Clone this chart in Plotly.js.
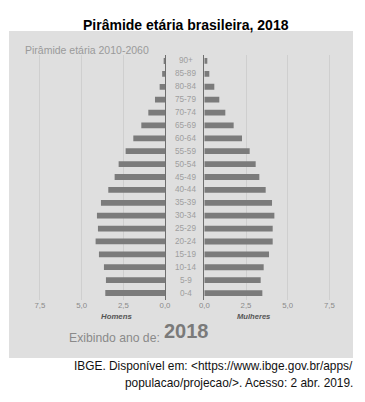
<!DOCTYPE html>
<html>
<head>
<meta charset="utf-8">
<script src="https://cdn.plot.ly/plotly-3.0.1.min.js"></script>
<style>html,body{margin:0;padding:0;background:#fff;}#chart{width:365px;height:402px;}</style>
</head>
<body>
<div id="chart"></div>
<script>
var ageGroups = ["0-4","5-9","10-14","15-19","20-24","25-29","30-34","35-39","40-44","45-49","50-54","55-59","60-64","65-69","70-74","75-79","80-84","85-89","90+"];
var homens = [3.58,3.54,3.66,3.96,4.16,4.02,4.08,3.84,3.40,3.02,2.78,2.36,1.90,1.42,1.00,0.60,0.32,0.17,0.08];
var mulheres = [3.48,3.38,3.56,3.88,4.10,4.10,4.20,4.06,3.68,3.30,3.08,2.72,2.26,1.76,1.26,0.90,0.60,0.30,0.18];
var xTicks = [0,2.5,5,7.5];

var W = 365, H = 402;
function px(x){return x/W;}
function py(y){return 1 - y/H;}
var FONT = 'Liberation Sans, Arial, sans-serif';

var barColor = '#7b7b7b';
var traces = [
  {type:'bar', orientation:'h', x:homens, y:ageGroups, xaxis:'x', yaxis:'y', marker:{color:barColor}, hoverinfo:'x+y'},
  {type:'bar', orientation:'h', x:mulheres, y:ageGroups, xaxis:'x2', yaxis:'y2', marker:{color:barColor}, hoverinfo:'x+y'}
];

var yDom = [py(299.5), py(54.5)];
var axCommon = {
  tickvals: xTicks, tickformat: '.1f', showgrid: true, gridcolor: '#cfcfcf', gridwidth: 1,
  zeroline: false, showline: false, ticks: '', fixedrange: true,
  tickfont: {family: FONT, size: 7.8, color: '#8a8a8a'}
};
var pxPerUnit = 16.68;
var layout = {
  width: W, height: H,
  margin: {l:0, r:0, t:0, b:0, pad:0},
  paper_bgcolor: '#ffffff', plot_bgcolor: 'rgba(0,0,0,0)',
  separators: ',.',
  showlegend: false,
  bargap: 0.55,
  xaxis: Object.assign({}, axCommon, {domain:[px(18), px(165)], range:[(165-18)/pxPerUnit, 0], anchor:'y'}),
  xaxis2: Object.assign({}, axCommon, {domain:[px(204.3), px(352)], range:[0, (352-204.3)/pxPerUnit], anchor:'y2'}),
  yaxis: {domain: yDom, anchor:'x', side:'right', showticklabels:false, ticks:'', showgrid:false, zeroline:false,
          showline:true, linecolor:'#6e6e6e', linewidth:1, fixedrange:true, categoryorder:'array', categoryarray: ageGroups},
  yaxis2: {domain: yDom, anchor:'x2', side:'left', showticklabels:false, ticks:'', showgrid:false, zeroline:false,
           showline:true, linecolor:'#6e6e6e', linewidth:1, fixedrange:true, categoryorder:'array', categoryarray: ageGroups},
  shapes: [
    {type:'rect', xref:'paper', yref:'paper', x0:px(9), x1:px(353), y0:py(358), y1:py(31), fillcolor:'#dfdfdf', line:{width:0}, layer:'below'}
  ],
  annotations: [
    {text:'<b>Pirâmide etária brasileira, 2018</b>', xref:'paper', yref:'paper', x:px(186), y:py(15), showarrow:false,
     font:{family:FONT, size:14, color:'#000'}},
    {text:'Pirâmide etária 2010-2060', xref:'paper', yref:'paper', x:px(23), y:py(42), xanchor:'left', showarrow:false,
     font:{family:FONT, size:10.5, color:'#9a9a9a'}},
    {text:'<b><i>Homens</i></b>', xref:'paper', yref:'paper', x:px(98.5), y:py(323), showarrow:false,
     font:{family:FONT, size:7.8, color:'#555'}},
    {text:'<b><i>Mulheres</i></b>', xref:'paper', yref:'paper', x:px(271.5), y:py(323), showarrow:false,
     font:{family:FONT, size:7.6, color:'#555'}},
    {text:'Exibindo ano de: ', xref:'paper', yref:'paper', x:px(67), y:py(347), xanchor:'left', showarrow:false,
     font:{family:FONT, size:12.2, color:'#8a8a8a'}},
    {text:'<b>2018</b>', xref:'paper', yref:'paper', x:px(162), y:py(344), xanchor:'left', showarrow:false,
     font:{family:FONT, size:20, color:'#7a7a7a'}},
    {text:'IBGE. Disponível em: &lt;https://www.ibge.gov.br/apps/', xref:'paper', yref:'paper', x:px(355), y:py(375), xanchor:'right', showarrow:false,
     font:{family:FONT, size:11.9, color:'#111'}},
    {text:'populacao/projecao/&gt;. Acesso: 2 abr. 2019.', xref:'paper', yref:'paper', x:px(355), y:py(392), xanchor:'right', showarrow:false,
     font:{family:FONT, size:11.9, color:'#111'}}
  ]
};
ageGroups.forEach(function(g){
  layout.annotations.push({text:g, xref:'paper', yref:'y', x:px(185.5), y:g, showarrow:false,
    font:{family:FONT, size:8.2, color:'#9e9e9e'}});
});
Plotly.newPlot('chart', traces, layout, {displayModeBar:false, staticPlot:true});
</script>
</body>
</html>
